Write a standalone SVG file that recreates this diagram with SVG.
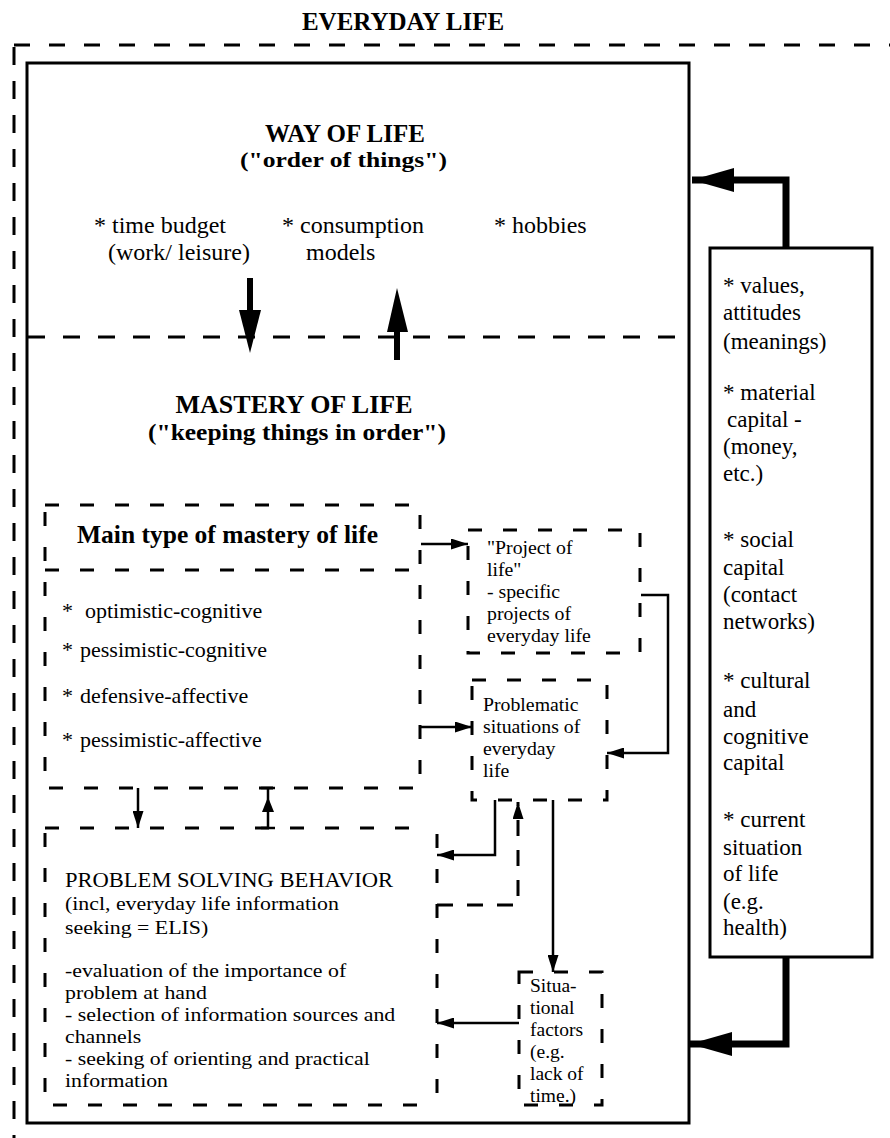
<svg xmlns="http://www.w3.org/2000/svg" width="890" height="1138" viewBox="0 0 890 1138">
<style>
text { font-family: "Liberation Serif", "Times New Roman", serif; fill: #000; }
.h { font-weight: bold; font-size: 25px; }
.sub { font-weight: bold; }
.mid { text-anchor: middle; }
.l24 { font-size: 24px; }
.l23 { font-size: 23px; }
.l22 { font-size: 22px; }
.l20 { font-size: 19.8px; }
.l19 { font-size: 19.5px; }
.solid { fill: none; stroke: #000; stroke-width: 3; }
.dashO { fill: none; stroke: #000; stroke-width: 3; stroke-dasharray: 16 19; }
.dashV { fill: none; stroke: #000; stroke-width: 3; stroke-dasharray: 18 16; }
.dashM { fill: none; stroke: #000; stroke-width: 3; stroke-dasharray: 17 18; }
.dashB { fill: none; stroke: #000; stroke-width: 3; stroke-dasharray: 14 21; }
.conn { fill: none; stroke: #000; stroke-width: 2.5; }
.connD { fill: none; stroke: #000; stroke-width: 3; stroke-dasharray: 16 14; }
.thick { fill: none; stroke: #000; stroke-width: 7; }
.shaft { fill: none; stroke: #000; stroke-width: 6; }
</style>
<defs>
<marker id="ah" markerUnits="userSpaceOnUse" markerWidth="17" markerHeight="11" refX="17" refY="5.5" orient="auto">
<path d="M0,0 L17,5.5 L0,11 z" fill="#000"/>
</marker>
<marker id="ahBig" markerUnits="userSpaceOnUse" markerWidth="42" markerHeight="24" refX="42" refY="12" orient="auto">
<path d="M0,0 L42,12 L0,24 z" fill="#000"/>
</marker>
</defs>

<text class="h mid" x="403" y="30">EVERYDAY LIFE</text>

<g id="everyday-life-frame">
<path class="dashO" d="M14,45 L890,45"/>
<path class="dashV" d="M14,47 L14,1138"/>
</g>

<g id="main-box">
<rect class="solid" x="27" y="63" width="662" height="1060"/>
<path class="dashM" d="M28,337 L688,337"/>
</g>

<g id="way-of-life">
<text class="h mid" x="345" y="142">WAY OF LIFE</text>
<text class="sub" x="240" y="167" style="font-size:22px" textLength="207" lengthAdjust="spacingAndGlyphs">("order of things")</text>
<text class="l24" x="94" y="233">* time budget</text>
<text class="l24" x="108" y="260">(work/ leisure)</text>
<text class="l24" x="282" y="233">* consumption</text>
<text class="l24" x="306" y="260">models</text>
<text class="l24" x="494" y="233">* hobbies</text>
</g>

<g id="mastery-of-life">
<text class="h mid" x="294" y="413" style="font-size:26px">MASTERY OF LIFE</text>
<text class="sub" x="148" y="440" style="font-size:23px" textLength="298" lengthAdjust="spacingAndGlyphs">("keeping things in order")</text>
</g>

<g id="main-type">
<rect class="dashB" x="45" y="505" width="375" height="283"/>
<path class="dashB" d="M45,570 L420,570"/>
<text class="h" x="77" y="543" style="font-size:25.5px">Main type of mastery of life</text>
<text class="l22" x="62" y="618">*<tspan x="85">optimistic-cognitive</tspan></text>
<text class="l22" x="62" y="657">*<tspan x="80">pessimistic-cognitive</tspan></text>
<text class="l22" x="62" y="703">*<tspan x="80">defensive-affective</tspan></text>
<text class="l22" x="62" y="747">*<tspan x="80">pessimistic-affective</tspan></text>
</g>

<g id="problem-solving">
<path class="dashB" d="M45,828 L417,828 M437,834 L437,1100 M417,1105 L45,1105 L45,828"/>
<text x="65" y="887" style="font-size:21px" textLength="328" lengthAdjust="spacingAndGlyphs">PROBLEM SOLVING BEHAVIOR</text>
<g transform="translate(65,0) scale(1.12,1) translate(-65,0)">
<text class="l19" x="65" y="910">(incl,  everyday life information</text>
<text class="l19" x="65" y="934">seeking = ELIS)</text>
<text class="l19" x="65" y="977">-evaluation of the importance of</text>
<text class="l19" x="65" y="999">problem at hand</text>
<text class="l19" x="65" y="1021">- selection of information sources and</text>
<text class="l19" x="65" y="1043">channels</text>
<text class="l19" x="65" y="1065">- seeking of orienting and practical</text>
<text class="l19" x="65" y="1087">information</text>
</g>
</g>

<g id="project-of-life">
<rect class="dashB" x="468" y="530" width="172" height="123"/>
<text class="l20" x="487" y="554">"Project of</text>
<text class="l20" x="487" y="576">life"</text>
<text class="l20" x="487" y="598">- specific</text>
<text class="l20" x="487" y="620">projects of</text>
<text class="l20" x="487" y="642">everyday life</text>
</g>

<g id="problematic-situations">
<rect class="dashB" x="472" y="680" width="135" height="120"/>
<text class="l20" x="483" y="711">Problematic</text>
<text class="l20" x="483" y="733">situations of</text>
<text class="l20" x="483" y="755">everyday</text>
<text class="l20" x="483" y="777">life</text>
</g>

<g id="situational-factors">
<rect class="dashB" x="519" y="972" width="83" height="133"/>
<text class="l19" x="530" y="992">Situa-</text>
<text class="l19" x="530" y="1014">tional</text>
<text class="l19" x="530" y="1036">factors</text>
<text class="l19" x="530" y="1058">(e.g.</text>
<text class="l19" x="530" y="1080">lack of</text>
<text class="l19" x="530" y="1102">time.)</text>
</g>

<g id="resources">
<rect class="solid" x="710" y="248" width="162" height="709"/>
<text class="l23" x="723" y="293">* values,</text>
<text class="l23" x="723" y="320">attitudes</text>
<text class="l23" x="723" y="349">(meanings)</text>
<text class="l23" x="723" y="400">* material</text>
<text class="l23" x="727" y="427">capital -</text>
<text class="l23" x="723" y="454">(money,</text>
<text class="l23" x="723" y="481">etc.)</text>
<text class="l23" x="723" y="547">* social</text>
<text class="l23" x="723" y="575">capital</text>
<text class="l23" x="723" y="602">(contact</text>
<text class="l23" x="723" y="629">networks)</text>
<text class="l23" x="723" y="688">* cultural</text>
<text class="l23" x="723" y="717">and</text>
<text class="l23" x="723" y="744">cognitive</text>
<text class="l23" x="723" y="770">capital</text>
<text class="l23" x="723" y="827">* current</text>
<text class="l23" x="723" y="855">situation</text>
<text class="l23" x="723" y="881">of life</text>
<text class="l23" x="723" y="909">(e.g.</text>
<text class="l23" x="723" y="935">health)</text>
</g>

<g id="connectors">
<path class="thick" d="M786,248 L786,180 L692,180" marker-end="url(#ahBig)"/>
<path class="thick" d="M786,957 L786,1044 L690,1044" marker-end="url(#ahBig)"/>
<path class="shaft" d="M250,278 L250,314"/>
<path d="M239,310 L261,310 L250,353 z" fill="#000"/>
<path class="shaft" d="M397,328 L397,360"/>
<path d="M387,332 L408,332 L397,288 z" fill="#000"/>
<path class="conn" d="M421,544 L468,544" marker-end="url(#ah)"/>
<path class="conn" d="M421,727 L472,727" marker-end="url(#ah)"/>
<path class="conn" d="M641,595 L668,595 L668,753 L607,753" marker-end="url(#ah)"/>
<path class="conn" d="M495,800 L495,855 L437,855" marker-end="url(#ah)"/>
<path class="connD" d="M437,905 L518,905 L518,802" marker-end="url(#ah)"/>
<path class="conn" d="M553,800 L553,972" marker-end="url(#ah)"/>
<path class="conn" d="M519,1023 L437,1023" marker-end="url(#ah)"/>
<path class="conn" d="M138,788 L138,828" marker-end="url(#ah)"/>
<path d="M262,812 L274,812 L268,797 z" fill="#000"/>
<path class="conn" d="M261,788 L275,788 M261,828 L275,828 M268,828 L268,788"/>
</g>
</svg>
